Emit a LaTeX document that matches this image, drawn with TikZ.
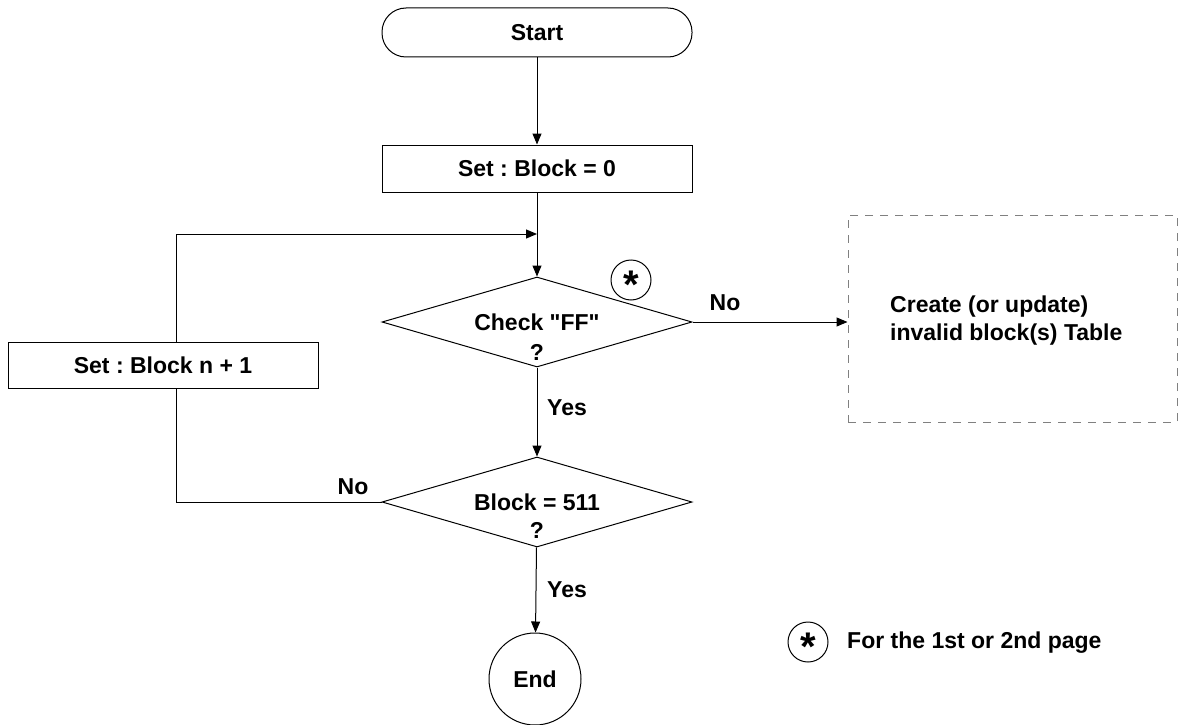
\documentclass[tikz,border=0pt]{standalone}
\usepackage{fontspec}
\setmainfont{Liberation Sans}
\newfontfamily\plainfont{Liberation Sans}
\usetikzlibrary{shapes.geometric,arrows.meta}
\frenchspacing
\begin{document}
\begin{tikzpicture}[x=1pt,y=-1pt,
  every node/.style={font=\fontsize{23}{28}\selectfont\bfseries},
  box/.style={draw,line width=1pt,minimum width=310pt,minimum height=47pt,inner sep=0pt},
  dia/.style={draw,diamond,line width=1pt,inner sep=0pt,minimum width=310pt,minimum height=90pt},
  conn/.style={line width=1pt},
  arr/.style={conn,-{Triangle[length=11pt,width=9pt]}},
  starc/.style={draw,circle,line width=1pt,minimum size=40pt,inner sep=0pt,
    font=\fontsize{40}{40}\selectfont\bfseries},
  lbl/.style={inner sep=0pt}
]
\useasboundingbox (0,0) rectangle (1181,725);
\fill[white] (0,0) rectangle (1181,725);

\node[box,rounded corners=24pt,minimum height=49pt] (start) at (537,32.5) {Start};
\node[box] (set0) at (537,168.5) {Set : Block = 0};
\node[dia] (d1) at (537,322) {};
\node[lbl] (t1) at (537,322) {{\plainfont\bfseries Check "FF"}};
\node[lbl] (q1) at (537,352) {?};
\node[starc] (star) at (631,280) {\smash{\raisebox{-0.47em}{*}}};
\node[box,minimum height=46pt] (setn) at (163,365) {Set : Block n + 1};
\node[dia] (d2) at (537,502) {};
\node[lbl] (t2) at (537,502) {Block = 511};
\node[lbl] (q2) at (537,530) {?};
\node[draw,circle,line width=1pt,minimum size=92pt,inner sep=0pt] (end) at (535,679) {End};

\node[draw=gray,line width=1pt,dash pattern=on 8pt off 7pt,minimum width=329pt,minimum height=207pt,inner sep=0pt] (tbl) at (1012.5,318.5) {};
\node[anchor=west,align=left,lbl] (tbltxt) at (890,321) {Create (or update)\\invalid block(s) Table};

\node[starc] (lstar) at (808,642) {\smash{\raisebox{-0.47em}{*}}};
\node[anchor=west,lbl] (legend) at (847,643) {For the 1st or 2nd page};

\coordinate (join) at (537,234);

\draw[arr] (start) -- (set0);
\draw[arr] (set0) -- (d1);
\draw[arr] ([xshift=13pt]setn.north) |- (join);
\draw[arr] (d1) -- (d2);
\draw[arr] (d1.east) -- (d1.east -| tbl.west);
\draw[conn] (d2.west) -| ([xshift=13pt]setn.south);
\draw[arr] (d2) -- (end);

\node[lbl] (yes1) at (567,408) {Yes};
\node[lbl] (yes2) at (567,590) {Yes};
\node[lbl] (no1) at (725,303) {No};
\node[lbl] (no2) at (353,487) {No};
\end{tikzpicture}
\end{document}
